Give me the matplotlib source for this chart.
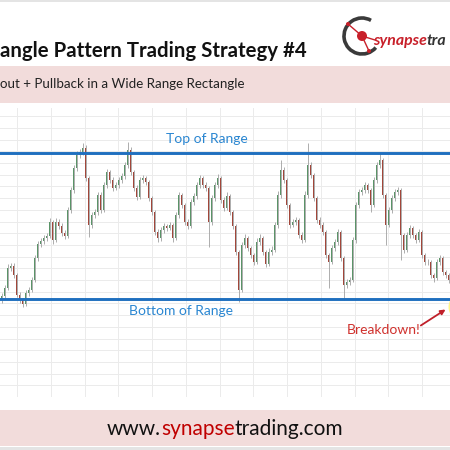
import matplotlib
matplotlib.use("Agg")
import matplotlib.pyplot as plt
import matplotlib.patches as mpatches
import numpy as np

plt.rcParams['font.family'] = ['Lato', 'DejaVu Sans']

# candle data (one candle per bar, price units)
opens = [100, 104, 112, 132, 134, 125, 105, 100, 96, 107, 110, 120, 142, 156, 159, 162, 164, 178, 160, 178,
         174, 167, 164, 190, 210, 232, 245, 248, 252, 222, 175, 185, 188, 205, 190, 215, 228, 220, 212, 215,
         220, 224, 235, 250, 228, 212, 203, 220, 222, 218, 202, 188, 168, 162, 170, 174, 172, 175, 162, 185,
         205, 195, 178, 174, 198, 204, 215, 222, 215, 212, 178, 202, 215, 222, 200, 192, 204, 188, 174, 148,
         110, 155, 162, 152, 145, 138, 158, 162, 148, 136, 148, 150, 175, 205, 230, 220, 195, 175, 178, 180,
         165, 160, 205, 235, 225, 202, 180, 175, 168, 145, 138, 152, 158, 168, 142, 115, 118, 120, 160, 195,
         208, 210, 215, 210, 195, 220, 235, 240, 205, 175, 190, 202, 208, 210, 165, 150, 165, 172, 165, 160,
         168, 145, 138, 138, 125, 122, 138, 142, 128, 125]
closes = [104, 112, 132, 134, 125, 105, 100, 96, 107, 110, 120, 142, 156, 159, 162, 164, 178, 160, 178, 174,
          167, 164, 190, 210, 232, 245, 248, 252, 222, 175, 185, 188, 205, 190, 215, 228, 220, 212, 215, 220,
          224, 235, 250, 228, 212, 203, 220, 222, 218, 202, 188, 168, 162, 170, 174, 172, 175, 162, 185, 205,
          195, 178, 174, 198, 204, 215, 222, 215, 212, 178, 202, 215, 222, 200, 192, 204, 188, 174, 148, 110,
          155, 162, 152, 145, 138, 158, 162, 148, 136, 148, 150, 175, 205, 230, 220, 195, 175, 178, 180, 165,
          160, 205, 235, 225, 202, 180, 175, 168, 145, 138, 152, 158, 168, 142, 115, 118, 120, 160, 195, 208,
          210, 215, 210, 195, 220, 235, 240, 205, 175, 190, 202, 208, 210, 165, 150, 165, 172, 165, 160, 168,
          145, 138, 138, 125, 122, 138, 142, 128, 125, 120]
highs = [107, 115, 136, 137, 137, 127, 108, 102, 110, 113, 123, 145, 159, 162, 165, 167, 182, 180, 182, 181,
         177, 170, 193, 213, 235, 249, 251, 257, 255, 224, 188, 191, 208, 208, 218, 231, 230, 223, 218, 223,
         227, 238, 258, 253, 230, 215, 223, 225, 224, 220, 204, 190, 171, 173, 177, 176, 178, 177, 188, 208,
         207, 197, 181, 201, 207, 218, 225, 224, 218, 214, 205, 218, 226, 224, 203, 208, 206, 190, 176, 150,
         158, 166, 164, 154, 147, 162, 166, 164, 150, 152, 154, 178, 209, 240, 233, 222, 197, 181, 183, 182,
         168, 209, 257, 238, 227, 204, 183, 178, 170, 147, 155, 161, 171, 170, 144, 121, 123, 163, 198, 211,
         213, 218, 217, 212, 223, 238, 247, 242, 207, 193, 205, 211, 213, 212, 167, 168, 175, 174, 167, 171,
         170, 147, 141, 140, 127, 141, 145, 144, 130, 127]
lows = [97, 101, 110, 129, 122, 103, 97, 93, 94, 104, 108, 118, 139, 153, 156, 159, 162, 156, 158, 171,
        164, 161, 162, 187, 207, 229, 242, 245, 219, 163, 172, 182, 185, 187, 188, 212, 217, 209, 210, 212,
        217, 221, 232, 225, 209, 200, 201, 217, 215, 199, 185, 165, 158, 159, 167, 169, 170, 158, 160, 182,
        192, 175, 171, 172, 195, 201, 212, 212, 209, 153, 175, 199, 212, 197, 189, 190, 185, 171, 145, 98,
        108, 152, 149, 142, 135, 136, 155, 145, 133, 134, 145, 148, 172, 202, 217, 192, 172, 173, 175, 162,
        157, 158, 202, 222, 199, 177, 172, 165, 142, 112, 136, 149, 155, 139, 100, 112, 115, 118, 157, 192,
        205, 207, 207, 188, 193, 217, 232, 202, 155, 173, 187, 199, 205, 140, 147, 148, 162, 162, 157, 158,
        142, 135, 135, 122, 118, 120, 135, 125, 122, 117]

range_top = 247
range_bottom = 101

title = "angle Pattern Trading Strategy #4"
subtitle = "out + Pullback in a Wide Range Rectangle"

W = 450
fig = plt.figure(figsize=(4.5, 4.5), dpi=100)
fig.patch.set_facecolor('white')

def fy(px):
    return 1 - px / W

# bands
fig.add_artist(mpatches.Rectangle((0, fy(2)), 1, 2 / W, transform=fig.transFigure, color='#e4e4e4', lw=0))
fig.add_artist(mpatches.Rectangle((0, fy(103)), 1, 37 / W, transform=fig.transFigure, color='#f2dcdb', lw=0))
fig.add_artist(mpatches.Rectangle((0, fy(446)), 1, 36 / W, transform=fig.transFigure, color='#f2dcdb', lw=0))
fig.add_artist(mpatches.Rectangle((0, 0), 1, 3 / W, transform=fig.transFigure, color='#e4e4e4', lw=0))

fig.text(0, fy(57), title, fontsize=14.7, fontweight='bold', color='#111111', va='baseline', ha='left')
fig.text(0, fy(84), subtitle, fontsize=9.6, color='#222222', va='center', ha='left')

# logo
lx, ly = 362 / W, fy(36)
fig.add_artist(mpatches.Arc((lx, ly), 36 / W, 36 / W, theta1=60, theta2=320, transform=fig.transFigure,
                            color='#3a3a3a', lw=2.6))
for nx, ny in [(348, 24), (369, 51), (375, 40)]:
    fig.add_artist(plt.Line2D([lx, nx / W], [ly, fy(ny)], transform=fig.transFigure, color='#c8202a', lw=1.0))
for nx, ny in [(348, 24), (369, 51)]:
    fig.add_artist(mpatches.Circle((nx / W, fy(ny)), 2 / W, transform=fig.transFigure, color='#c8202a', lw=0))
fig.add_artist(mpatches.Circle((lx, ly), 5 / W, transform=fig.transFigure, color='#c8202a', lw=0))
t = fig.text(373 / W, fy(45), "synapse", fontsize=11.4, fontweight='bold', style='italic', color='#c8202a',
             va='baseline', ha='left')
fig.canvas.draw()
r = fig.canvas.get_renderer()
wpx = t.get_window_extent(r).width
fig.text(373 / W + wpx / W, fy(45), "tra", fontsize=11.4, fontweight='bold', style='italic', color='#333333',
         va='baseline', ha='left')

# chart
ax = fig.add_axes([0, fy(397), 1, (397 - 108) / W])
n = len(closes)
idx = np.arange(n)
ax.set_xlim(-0.5, n - 0.5)
ax.set_ylim(3, 292)
for s in ax.spines.values():
    s.set_visible(False)
ax.set_xticks(np.arange(5.2, n, 11.25))
ax.set_yticks(np.arange(3, 292, 11.7))
ax.tick_params(length=0, labelbottom=False, labelleft=False)
ax.grid(True, color='#ebebeb', lw=0.7)
ax.set_axisbelow(True)

o = np.array(opens)
c = np.array(closes)
up = c >= o
ax.vlines(idx, lows, highs, color='#a0a0a0', lw=0.6, zorder=2)
ax.bar(idx[up], (c - o)[up], bottom=o[up], width=0.6, color='#5a9468', zorder=3)
ax.bar(idx[~up], (c - o)[~up], bottom=o[~up], width=0.6, color='#a2463a', zorder=3)

ax.axhline(range_top, color='#1f6fbf', lw=2.1, zorder=4)
ax.axhline(range_bottom, color='#1f6fbf', lw=2.1, zorder=4)
ax.text(68.3, range_top + 14, "Top of Range", color='#2a86d1', fontsize=10, ha='center', va='center')
ax.text(59.8, range_bottom - 12, "Bottom of Range", color='#2a86d1', fontsize=10, ha='center', va='center')
ax.text(127.5, 70, "Breakdown!", color='#d0312d', fontsize=10, ha='center', va='center')
ax.annotate('', xy=(148.8, 92), xytext=(139, 73),
            arrowprops=dict(arrowstyle='-|>', color='#c0202a', lw=1.3, mutation_scale=7))
ax.add_patch(mpatches.Ellipse((150.6, 93), 3.2, 17, color='#fff36b', alpha=0.8, lw=0, zorder=5))

# footer
fs = 15
parts = [("www.", '#111111'), ("synapse", '#c00000'), ("trading.com", '#111111')]
texts = [fig.text(0, fy(429), p, fontsize=fs, color=col, va='center', ha='left') for p, col in parts]
fig.canvas.draw()
widths = [tt.get_window_extent(r).width for tt in texts]
x0 = (W - sum(widths)) / 2
for tt, w in zip(texts, widths):
    tt.set_x(x0 / W)
    x0 += w

fig.savefig("out.png", dpi=100)
